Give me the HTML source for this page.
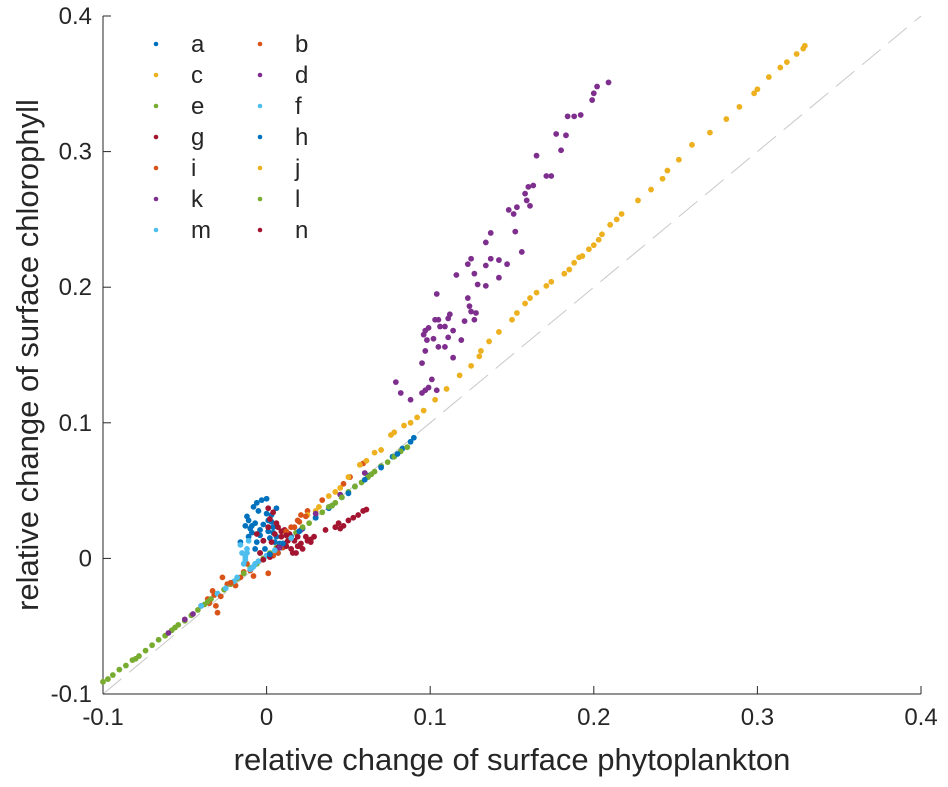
<!DOCTYPE html>
<html><head><meta charset="utf-8"><style>
html,body{margin:0;padding:0;background:#fff;}
svg text{font-family:"Liberation Sans",Arial,sans-serif;fill:#262626;}
</style></head><body>
<svg id="chart" width="948" height="782" viewBox="0 0 948 782" xmlns="http://www.w3.org/2000/svg">
<g id="axes"></g>
<g id="marks"></g>
<g id="legend"></g>
<text x="512" y="770" text-anchor="middle" font-size="31">relative change of surface phytoplankton</text>
<text transform="translate(38,355) rotate(-90)" text-anchor="middle" font-size="31">relative change of surface chlorophyll</text>
</svg>
<script>
const xTicks=[-0.1,0,0.1,0.2,0.3,0.4];
const yTicks=[-0.1,0,0.1,0.2,0.3,0.4];
const xTickLabels=["-0.1","0","0.1","0.2","0.3","0.4"];
const yTickLabels=["-0.1","0","0.1","0.2","0.3","0.4"];
const seriesNames=["a","b","c","d","e","f","g","h","i","j","k","l","m","n"];
const seriesColors=["#0072BD","#D95319","#EDB120","#7E2F8E","#77AC30","#4DBEEE","#A2142F","#0072BD","#D95319","#EDB120","#7E2F8E","#77AC30","#4DBEEE","#A2142F"];
const aX=[-0.006,-0.003,0.000,0.006,0.003,-0.011,-0.009,-0.010,-0.004,-0.011,-0.016,-0.002,0.002,0.006,-0.001,-0.004,0.004,0.004,0.001,-0.007,0.007,0.009,0.015,0.022,0.030,0.038,0.046,0.054,0.062,0.070,0.077,0.083,0.088,0.090,-0.008,-0.005,0.000,0.003,-0.012,-0.007,-0.002,0.005,-0.009,-0.004,0.001,-0.013,-0.006,0.008];
const aY=[0.041,0.043,0.044,0.037,0.032,0.028,0.024,0.022,0.021,0.016,0.012,0.013,0.015,0.016,0.007,0.004,0.023,0.019,0.028,0.007,0.004,0.008,0.016,0.022,0.030,0.037,0.045,0.053,0.061,0.068,0.075,0.081,0.086,0.089,0.038,0.035,0.033,0.027,0.031,0.026,0.025,0.012,0.019,0.017,0.020,0.024,0.012,0.011];
const bX=[0.059,0.051,0.047,0.034,0.025,0.021,0.019,0.015,0.013,-0.012,-0.010,-0.016,-0.019,-0.027,-0.032,-0.031,-0.030,-0.033,0.001,0.007,0.010,0.017,0.020,-0.024,-0.036,-0.014,-0.008,-0.021,0.004,0.012];
const bY=[0.070,0.060,0.055,0.043,0.035,0.032,0.028,0.023,0.018,-0.004,-0.009,-0.014,-0.020,-0.014,-0.027,-0.035,-0.040,-0.024,-0.011,0.004,0.008,0.023,0.027,-0.019,-0.030,-0.010,-0.013,-0.018,0.002,0.019];
const cX=[0.329,0.328,0.324,0.318,0.314,0.307,0.300,0.298,0.289,0.281,0.271,0.260,0.252,0.245,0.242,0.235,0.227,0.217,0.214,0.210,0.205,0.203,0.200,0.197,0.193,0.191,0.188,0.185,0.182,0.174,0.171,0.165,0.161,0.158,0.153,0.150,0.142,0.136,0.131,0.130,0.125,0.118,0.110,0.103,0.096,0.092,0.088,0.076,0.078,0.070,0.061,0.057,0.045,0.042,0.038,0.032,0.030,0.025];
const cY=[0.378,0.376,0.372,0.366,0.362,0.355,0.346,0.343,0.333,0.324,0.314,0.305,0.294,0.286,0.280,0.272,0.264,0.254,0.250,0.246,0.239,0.235,0.231,0.228,0.223,0.222,0.218,0.213,0.210,0.204,0.201,0.196,0.192,0.188,0.181,0.176,0.167,0.160,0.153,0.149,0.142,0.135,0.125,0.117,0.109,0.104,0.100,0.091,0.093,0.080,0.072,0.069,0.052,0.049,0.046,0.038,0.035,0.032];
const dX=[0.209,0.202,0.200,0.199,0.184,0.188,0.192,0.177,0.183,0.180,0.165,0.171,0.174,0.160,0.163,0.158,0.159,0.161,0.148,0.151,0.153,0.137,0.152,0.134,0.156,0.125,0.123,0.137,0.142,0.134,0.147,0.116,0.127,0.142,0.129,0.134,0.104,0.123,0.124,0.125,0.128,0.121,0.127,0.112,0.111,0.103,0.105,0.106,0.109,0.114,0.097,0.099,0.096,0.098,0.102,0.111,0.119,0.105,0.109,0.097,0.114,0.095,0.101,0.099,0.097,0.095,0.104,0.079,0.082,0.088,0.021,-0.040,0.045,0.060];
const dY=[0.351,0.348,0.343,0.338,0.326,0.326,0.327,0.313,0.312,0.301,0.297,0.282,0.282,0.274,0.275,0.269,0.264,0.260,0.257,0.254,0.259,0.240,0.241,0.233,0.226,0.221,0.217,0.221,0.220,0.216,0.217,0.209,0.210,0.207,0.202,0.201,0.195,0.192,0.186,0.182,0.181,0.175,0.176,0.180,0.177,0.176,0.176,0.171,0.171,0.168,0.168,0.170,0.165,0.161,0.162,0.163,0.161,0.156,0.156,0.153,0.148,0.144,0.132,0.126,0.124,0.122,0.124,0.130,0.122,0.117,0.021,-0.035,0.047,0.063];
const eX=[-0.100,-0.097,-0.094,-0.090,-0.086,-0.082,-0.078,-0.074,-0.070,-0.066,-0.062,-0.058,-0.054,-0.050,-0.046,-0.042,-0.038,-0.034,-0.030,-0.026,-0.022,-0.018,-0.014,-0.010,-0.006,-0.002,0.002,0.006,0.010,0.014,0.018,0.022,0.026,0.030,0.034,0.038,0.042,0.046,0.050,0.054,0.058,0.062,0.066,0.070,0.074,0.078,0.082,0.086];
const eY=[-0.091,-0.089,-0.086,-0.082,-0.079,-0.075,-0.072,-0.068,-0.064,-0.060,-0.057,-0.053,-0.049,-0.046,-0.042,-0.038,-0.034,-0.030,-0.026,-0.023,-0.019,-0.015,-0.011,-0.007,-0.004,0.000,0.004,0.008,0.011,0.015,0.019,0.023,0.026,0.030,0.034,0.038,0.041,0.045,0.049,0.053,0.056,0.060,0.064,0.068,0.071,0.075,0.079,0.082];
const fX=[-0.014,-0.013,-0.012,-0.015,-0.009,-0.007,-0.012,-0.040,-0.030,-0.020,-0.010,0.000,0.010,0.020,0.030,-0.016,-0.005,-0.011,-0.013];
const fY=[-0.004,0.001,0.004,0.004,-0.007,-0.004,0.007,-0.035,-0.026,-0.017,-0.008,0.002,0.011,0.020,0.030,0.010,-0.002,0.013,-0.001];
const gX=[-0.006,0.001,0.007,0.011,0.013,0.017,0.021,0.025,0.029,0.016,0.018,0.002,-0.002,-0.004,0.007,0.009,0.001,0.004,0.002,-0.002,0.011,0.022,0.036,0.042,0.045,0.047,0.053,0.056,0.059,0.061,0.044,0.005,0.009,0.014,0.019,0.024,0.003,0.012,0.020,0.027,0.006,0.015];
const gY=[0.018,0.023,0.023,0.021,0.013,0.013,0.011,0.013,0.016,0.004,0.004,0.001,-0.001,0.004,0.008,0.016,0.037,0.034,0.029,0.013,0.011,0.007,0.021,0.023,0.022,0.024,0.030,0.032,0.035,0.036,0.026,0.018,0.020,0.018,0.016,0.016,0.012,0.009,0.009,0.012,0.026,0.007];
const hX=[0.002,0.010,0.020,0.030,0.040,0.050,0.060,0.070,0.080];
const hY=[0.003,0.011,0.020,0.030,0.039,0.048,0.058,0.067,0.077];
const iX=[-0.035,-0.028,-0.022,0.012,0.024];
const iY=[-0.033,-0.028,-0.018,0.020,0.031];
const jX=[0.050,0.066,0.084];
const jY=[0.060,0.078,0.098];
const kX=[-0.050,-0.045,-0.060,0.008,0.030];
const kY=[-0.045,-0.041,-0.055,0.008,0.033];
const lX=[-0.080,-0.056,-0.036,0.040,0.064];
const lY=[-0.074,-0.051,-0.032,0.039,0.062];
const mX=[-0.025,-0.018,-0.008,0.005,0.015];
const mY=[-0.022,-0.014,-0.006,0.006,0.015];
const nX=[0.012,0.019,0.027,0.050];
const nY=[0.017,0.009,0.014,0.028];
const allX=[aX,bX,cX,dX,eX,fX,gX,hX,iX,jX,kX,lX,mX,nX];
const allY=[aY,bY,cY,dY,eY,fY,gY,hY,iY,jY,kY,lY,mY,nY];

const L=103,R=921,T=16,B=694;
function sx(v){return L+(v+0.1)/0.5*(R-L);}
function sy(v){return B-(v+0.1)/0.5*(B-T);}
const NS="http://www.w3.org/2000/svg";
function mk(tag,attrs,parent){const e=document.createElementNS(NS,tag);for(const k in attrs)e.setAttribute(k,attrs[k]);parent.appendChild(e);return e;}
const axes=document.getElementById('axes');
const diag=mk('line',{x1:sx(-0.1),y1:sy(-0.1),x2:sx(0.4),y2:sy(0.4),stroke:'#c8c8c8','stroke-width':1,'stroke-dasharray':'24,10'},axes);


const xa=mk('line',{x1:L,y1:B,x2:R,y2:B,stroke:'#262626','stroke-width':1},axes);


const ya=mk('line',{x1:L,y1:T,x2:L,y2:B,stroke:'#262626','stroke-width':1},axes);


xTicks.forEach((v,i)=>{
  const x=sx(v);
  const t=mk('line',{x1:x,y1:B,x2:x,y2:B-8,stroke:'#262626'},axes);
  
  
  const lb=mk('text',{x:x,y:B+31,'text-anchor':'middle','font-size':24},axes);
  lb.textContent=xTickLabels[i];
  
  
});
yTicks.forEach((v,i)=>{
  const y=sy(v);
  const t=mk('line',{x1:L,y1:y,x2:L+8,y2:y,stroke:'#262626'},axes);
  
  
  const lb=mk('text',{x:L-11,y:y+8,'text-anchor':'end','font-size':24},axes);
  lb.textContent=yTickLabels[i];
  
  
});
const marks=document.getElementById('marks');
allX.forEach((xs,s)=>{
  const g=mk('g',{fill:seriesColors[s]},marks);
  
  
  xs.forEach((xv,k)=>{
    const c=mk('circle',{cx:sx(xv),cy:sy(allY[s][k]),r:2.9},g);
    
    
  });
});
const legend=document.getElementById('legend');
seriesNames.forEach((n,i)=>{
  const col=i%2,row=Math.floor(i/2);
  const mx=156+col*104, my=44+row*31;
  const g=mk('g',{},legend);
  
  
  mk('circle',{cx:mx,cy:my,r:2.3,fill:seriesColors[i]},g);
  const t=mk('text',{x:mx+35,y:my+8,'font-size':24},g);
  t.textContent=n;
});
</script>
</body></html>
